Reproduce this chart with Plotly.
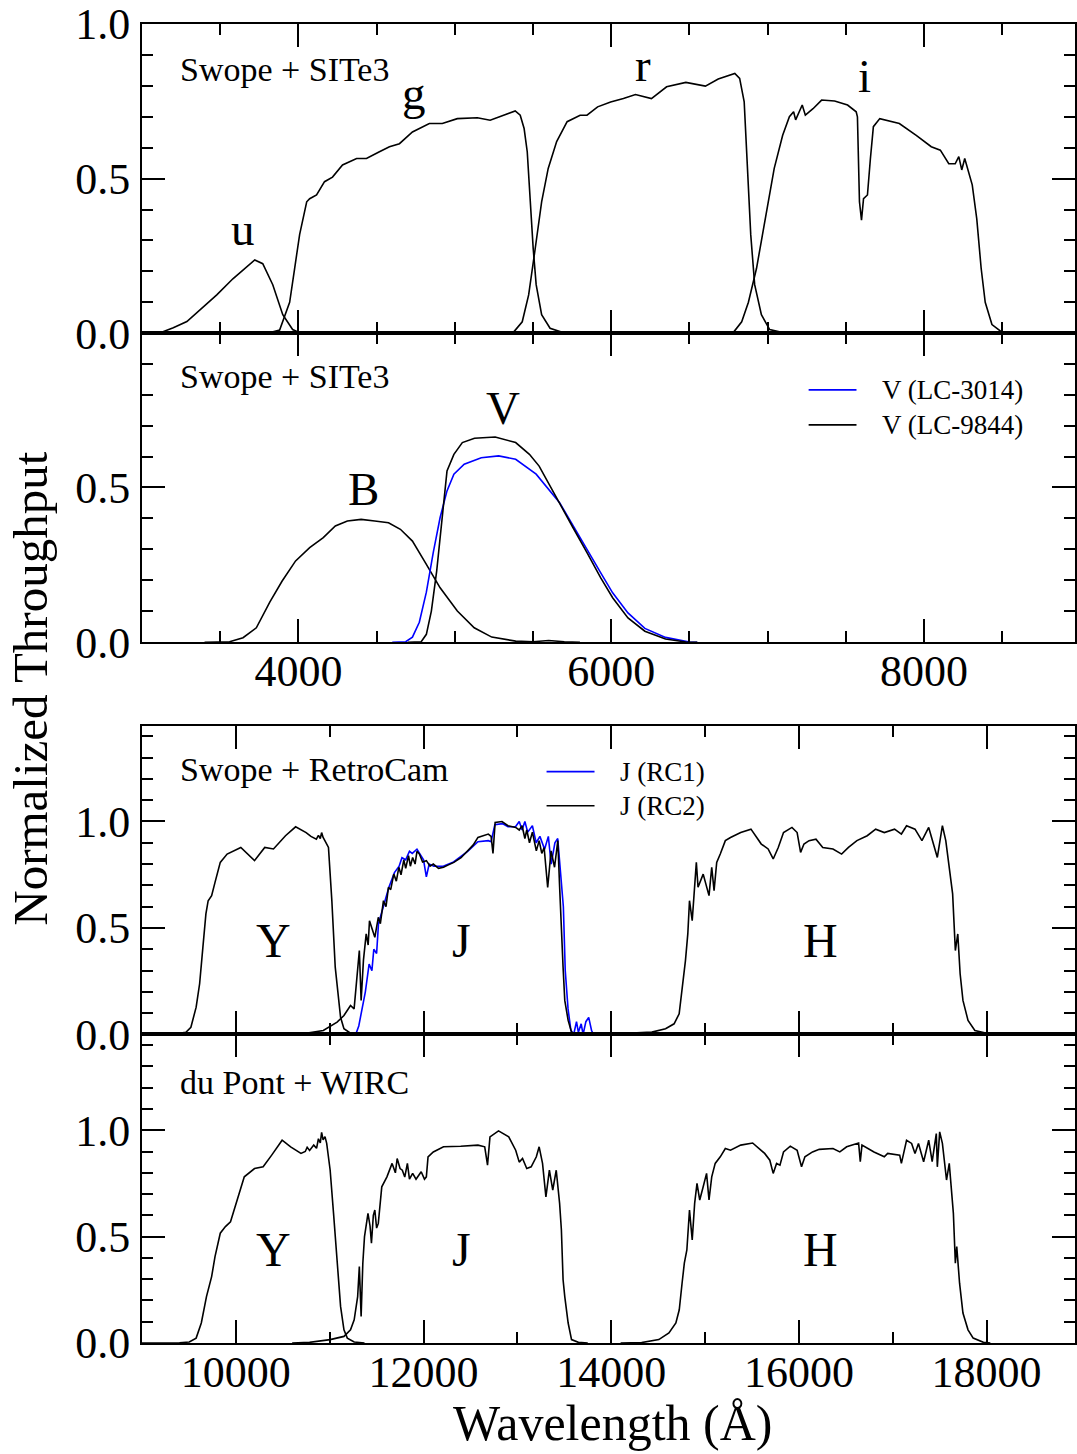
import plotly.graph_objects as go

# ---------------- data (wavelength in Angstrom, normalized throughput) ----------------
# Panel 1: Swope + SITe3 (u g r i)
u_SITe3 = [(3000, 0), (3100, 0.001), (3134, 0.005), (3200, 0.018), (3287, 0.038), (3370, 0.076),
           (3478, 0.124), (3581, 0.176), (3689, 0.225), (3721, 0.237), (3772, 0.225), (3836, 0.157),
           (3900, 0.06), (3963, 0.012), (4008, 0.002), (4100, 0)]
g_SITe3 = [(3700, 0), (3820, 0.002), (3880, 0.01), (3944, 0.1), (3976, 0.21), (4008, 0.32),
           (4053, 0.425), (4072, 0.435), (4116, 0.447), (4167, 0.49), (4218, 0.505), (4282, 0.544),
           (4372, 0.565), (4435, 0.565), (4518, 0.587), (4582, 0.603), (4646, 0.613), (4729, 0.651),
           (4837, 0.678), (4920, 0.678), (5016, 0.694), (5144, 0.697), (5226, 0.689), (5309, 0.705),
           (5386, 0.719), (5418, 0.705), (5443, 0.662), (5463, 0.587), (5482, 0.425), (5501, 0.274),
           (5520, 0.157), (5555, 0.06), (5609, 0.016), (5692, 0.002), (5800, 0)]
r_SITe3 = [(5250, 0), (5373, 0.002), (5431, 0.037), (5472, 0.124), (5514, 0.274), (5555, 0.425),
           (5597, 0.533), (5651, 0.62), (5718, 0.684), (5801, 0.705), (5845, 0.705), (5913, 0.732),
           (5996, 0.748), (6078, 0.759), (6155, 0.772), (6257, 0.759), (6354, 0.797), (6477, 0.811),
           (6602, 0.799), (6684, 0.822), (6790, 0.84), (6821, 0.824), (6850, 0.748), (6872, 0.532),
           (6892, 0.318), (6917, 0.157), (6960, 0.06), (7013, 0.012), (7096, 0.002), (7200, 0)]
i_SITe3 = [(6650, 0), (6780, 0.002), (6834, 0.037), (6877, 0.1), (6929, 0.21), (6987, 0.37),
           (7042, 0.533), (7096, 0.64), (7139, 0.7), (7166, 0.716), (7179, 0.69), (7221, 0.738),
           (7241, 0.705), (7290, 0.726), (7345, 0.754), (7428, 0.751), (7511, 0.738), (7566, 0.716),
           (7574, 0.70), (7587, 0.425), (7600, 0.366), (7613, 0.435), (7638, 0.447), (7657, 0.565),
           (7676, 0.668), (7717, 0.694), (7842, 0.678), (7950, 0.64), (8046, 0.603), (8104, 0.592),
           (8158, 0.548), (8199, 0.548), (8222, 0.571), (8241, 0.528), (8260, 0.565), (8308, 0.48),
           (8337, 0.37), (8365, 0.21), (8391, 0.1), (8434, 0.028), (8502, 0.002), (8600, 0)]

# Panel 2: Swope + SITe3 (B V)
B_SITe3 = [(3400, 0), (3500, 0.0), (3560, 0.002), (3646, 0.015), (3731, 0.047), (3817, 0.13),
           (3896, 0.198), (3982, 0.263), (4072, 0.306), (4159, 0.338), (4236, 0.376), (4313, 0.392),
           (4401, 0.397), (4488, 0.392), (4576, 0.386), (4652, 0.365), (4729, 0.327), (4818, 0.252),
           (4906, 0.176), (5016, 0.101), (5124, 0.047), (5236, 0.017), (5389, 0.004), (5500, 0.002),
           (5600, 0.006), (5700, 0.002), (5800, 0)]
V_LC3014 = [(4600, 0), (4686, 0.002), (4729, 0.017), (4773, 0.065), (4818, 0.162), (4862, 0.29),
            (4906, 0.403), (4950, 0.489), (4994, 0.543), (5060, 0.575), (5169, 0.596), (5280, 0.602),
            (5389, 0.591), (5520, 0.543), (5670, 0.451), (5756, 0.375), (5845, 0.30), (5932, 0.225),
            (6009, 0.16), (6107, 0.095), (6215, 0.045), (6347, 0.016), (6500, 0.001), (6550, 0)]
V_LC9844 = [(4700, 0), (4785, 0.002), (4818, 0.026), (4850, 0.101), (4884, 0.23), (4917, 0.403),
            (4950, 0.553), (4994, 0.607), (5048, 0.645), (5126, 0.659), (5258, 0.663), (5389, 0.645),
            (5477, 0.607), (5539, 0.569), (5670, 0.446), (5756, 0.37), (5845, 0.29), (5932, 0.209),
            (6009, 0.144), (6107, 0.079), (6215, 0.036), (6347, 0.011), (6477, 0.001), (6550, 0)]

# Panel 3: Swope + RetroCam (Y J H)
Y_RC = [(9000, 0), (9300, 0.0), (9468, 0.01), (9521, 0.034), (9577, 0.128), (9614, 0.238),
        (9649, 0.41), (9681, 0.566), (9705, 0.628), (9742, 0.652), (9778, 0.714), (9834, 0.808),
        (9907, 0.847), (10053, 0.878), (10199, 0.816), (10308, 0.878), (10401, 0.871), (10529, 0.933),
        (10637, 0.975), (10749, 0.948), (10800, 0.93), (10858, 0.917), (10880, 0.935), (10900, 0.92),
        (10914, 0.948), (10930, 0.925), (10950, 0.909), (10987, 0.878), (11023, 0.628), (11059, 0.316),
        (11116, 0.081), (11152, 0.027), (11222, 0.006), (11297, 0)]
J_RC1 = [(11200, 0), (11280, 0.003), (11310, 0.04), (11340, 0.11), (11380, 0.2), (11420, 0.33),
         (11450, 0.30), (11470, 0.40), (11500, 0.38), (11520, 0.52), (11580, 0.62), (11630, 0.69),
         (11690, 0.76), (11740, 0.79), (11770, 0.83), (11810, 0.82), (11850, 0.86), (11880, 0.85),
         (11930, 0.87), (11960, 0.85), (12000, 0.82), (12030, 0.74), (12060, 0.80), (12110, 0.79),
         (12210, 0.79), (12320, 0.81), (12470, 0.86), (12580, 0.905), (12690, 0.91), (12720, 0.905),
         (12760, 0.985), (12840, 0.99), (12900, 0.975), (12980, 0.975), (13020, 1.0), (13050, 0.96),
         (13080, 1.0), (13110, 0.95), (13160, 0.98), (13200, 0.90), (13240, 0.93), (13290, 0.87),
         (13330, 0.93), (13360, 0.80), (13400, 0.90), (13430, 0.92), (13460, 0.74), (13490, 0.60),
         (13510, 0.30), (13540, 0.12), (13570, 0.02), (13600, 0.0), (13630, 0.06), (13650, 0.01),
         (13680, 0.05), (13700, 0.0), (13730, 0.06), (13760, 0.08), (13790, 0.02), (13810, 0.0),
         (13870, 0.0)]
J_RC2 = [(10500, 0), (10712, 0.003), (10932, 0.019), (11079, 0.058), (11152, 0.089), (11222, 0.136),
         (11260, 0.12), (11290, 0.25), (11316, 0.394), (11335, 0.16), (11360, 0.35), (11389, 0.472),
         (11410, 0.42), (11424, 0.534), (11450, 0.50), (11481, 0.456), (11518, 0.55), (11540, 0.52),
         (11573, 0.628), (11600, 0.60), (11626, 0.691), (11650, 0.68), (11683, 0.753), (11710, 0.72),
         (11737, 0.785), (11760, 0.75), (11790, 0.82), (11810, 0.78), (11840, 0.84), (11860, 0.79),
         (11884, 0.831), (11910, 0.80), (11930, 0.86), (11956, 0.847), (11990, 0.81), (12030, 0.816),
         (12070, 0.79), (12104, 0.80), (12160, 0.78), (12213, 0.785), (12260, 0.795), (12323, 0.808),
         (12400, 0.83), (12469, 0.862), (12530, 0.89), (12580, 0.925), (12640, 0.935), (12690, 0.941),
         (12720, 0.93), (12740, 0.85), (12763, 0.995), (12836, 1.0), (12900, 0.98), (12982, 0.972),
         (13020, 0.96), (13050, 0.98), (13080, 0.92), (13100, 0.96), (13129, 0.90), (13160, 0.95),
         (13202, 0.862), (13232, 0.91), (13260, 0.85), (13285, 0.878), (13323, 0.69), (13359, 0.862),
         (13396, 0.785), (13431, 0.91), (13449, 0.706), (13469, 0.472), (13487, 0.316), (13505, 0.16),
         (13541, 0.066), (13577, 0.011), (13620, 0.002), (13700, 0)]
H_RC = [(13900, 0), (14251, 0.006), (14433, 0.011), (14579, 0.027), (14670, 0.05), (14724, 0.097),
        (14761, 0.222), (14791, 0.347), (14816, 0.472), (14834, 0.628), (14863, 0.534), (14889, 0.691),
        (14907, 0.808), (14925, 0.691), (14980, 0.753), (15042, 0.652), (15071, 0.785), (15096, 0.675),
        (15124, 0.808), (15162, 0.847), (15216, 0.91), (15271, 0.925), (15380, 0.948), (15489, 0.964),
        (15526, 0.941), (15599, 0.894), (15672, 0.871), (15726, 0.824), (15780, 0.878), (15836, 0.948),
        (15926, 0.972), (15981, 0.948), (16018, 0.855), (16054, 0.894), (16108, 0.91), (16182, 0.917),
        (16254, 0.878), (16363, 0.871), (16455, 0.847), (16528, 0.878), (16618, 0.91), (16728, 0.933),
        (16818, 0.964), (16910, 0.948), (17019, 0.964), (17092, 0.941), (17147, 0.98), (17237, 0.964),
        (17311, 0.91), (17383, 0.972), (17475, 0.831), (17529, 0.98), (17565, 0.91), (17602, 0.785),
        (17638, 0.66), (17667, 0.394), (17693, 0.472), (17718, 0.285), (17748, 0.16), (17802, 0.066),
        (17875, 0.019), (18002, 0.006), (18100, 0)]

# Panel 4: du Pont + WIRC (Y J H)
Y_WIRC = [(9000, 0), (9400, 0.001), (9504, 0.005), (9577, 0.023), (9632, 0.094), (9687, 0.218),
          (9742, 0.312), (9778, 0.406), (9834, 0.516), (9889, 0.547), (9943, 0.57), (10017, 0.672),
          (10090, 0.781), (10199, 0.82), (10291, 0.828), (10382, 0.883), (10493, 0.953), (10584, 0.922),
          (10694, 0.891), (10740, 0.90), (10760, 0.92), (10786, 0.905), (10830, 0.93), (10860, 0.915),
          (10880, 0.96), (10900, 0.94), (10914, 0.99), (10930, 0.955), (10950, 0.97), (10968, 0.938),
          (11005, 0.812), (11041, 0.609), (11079, 0.375), (11116, 0.172), (11152, 0.062), (11188, 0.023),
          (11261, 0.005), (11371, 0)]
J_WIRC = [(10600, 0), (10786, 0.003), (11005, 0.016), (11152, 0.031), (11222, 0.062), (11261, 0.109),
          (11298, 0.218), (11316, 0.359), (11335, 0.125), (11353, 0.375), (11371, 0.5), (11408, 0.609),
          (11430, 0.55), (11445, 0.469), (11465, 0.6), (11481, 0.625), (11500, 0.54), (11518, 0.562),
          (11555, 0.734), (11610, 0.781), (11665, 0.844), (11700, 0.80), (11719, 0.867), (11750, 0.82),
          (11774, 0.812), (11800, 0.78), (11828, 0.844), (11850, 0.77), (11884, 0.797), (11920, 0.77),
          (11975, 0.805), (12010, 0.77), (12030, 0.781), (12048, 0.875), (12104, 0.898), (12213, 0.922),
          (12396, 0.925), (12580, 0.93), (12652, 0.922), (12682, 0.836), (12708, 0.969), (12799, 0.997),
          (12908, 0.969), (12982, 0.906), (13020, 0.85), (13055, 0.867), (13100, 0.82), (13147, 0.828),
          (13202, 0.875), (13232, 0.922), (13268, 0.844), (13304, 0.687), (13341, 0.812), (13377, 0.719),
          (13414, 0.812), (13450, 0.656), (13469, 0.531), (13487, 0.297), (13505, 0.218), (13541, 0.094),
          (13577, 0.016), (13650, 0.003), (13750, 0)]
H_WIRC = [(14100, 0), (14324, 0.002), (14507, 0.016), (14615, 0.047), (14689, 0.094), (14725, 0.156),
          (14755, 0.281), (14779, 0.375), (14806, 0.437), (14834, 0.625), (14863, 0.484), (14889, 0.656),
          (14914, 0.75), (14943, 0.672), (14980, 0.734), (15016, 0.797), (15042, 0.672), (15071, 0.781),
          (15108, 0.844), (15162, 0.875), (15216, 0.914), (15271, 0.906), (15380, 0.93), (15507, 0.94),
          (15635, 0.891), (15690, 0.859), (15726, 0.797), (15762, 0.844), (15798, 0.836), (15836, 0.898),
          (15908, 0.925), (15981, 0.906), (16028, 0.828), (16064, 0.875), (16145, 0.898), (16217, 0.91),
          (16363, 0.914), (16436, 0.898), (16509, 0.922), (16636, 0.94), (16654, 0.852), (16672, 0.93),
          (16800, 0.898), (16910, 0.875), (16946, 0.891), (17074, 0.883), (17092, 0.844), (17147, 0.953),
          (17201, 0.938), (17237, 0.891), (17274, 0.938), (17329, 0.852), (17383, 0.953), (17420, 0.852),
          (17464, 0.984), (17475, 0.828), (17500, 0.992), (17529, 0.938), (17573, 0.766), (17602, 0.844),
          (17646, 0.609), (17667, 0.375), (17682, 0.453), (17712, 0.281), (17748, 0.141), (17802, 0.062),
          (17857, 0.023), (17966, 0.003), (18040, 0)]

panel_titles = ["Swope + SITe3", "Swope + SITe3", "Swope + RetroCam", "du Pont + WIRC"]
legend_V = ["V (LC-3014)", "V (LC-9844)"]
legend_J = ["J (RC1)", "J (RC2)"]

# ---------------- figure ----------------
FONT = "Liberation Serif"
BLUE = "#0000ff"
fig = go.Figure()


def add(curve, n, color="black"):
    xs = [p[0] for p in curve]
    ys = [p[1] for p in curve]
    suffix = "" if n == 1 else str(n)
    fig.add_trace(go.Scatter(x=xs, y=ys, mode="lines", line=dict(color=color, width=1.6),
                             xaxis="x" + suffix, yaxis="y" + suffix, showlegend=False,
                             hoverinfo="skip"))


for c in (u_SITe3, g_SITe3, r_SITe3, i_SITe3):
    add(c, 1)
add(B_SITe3, 2)
add(V_LC3014, 2, BLUE)
add(V_LC9844, 2)
add(Y_RC, 3)
add(J_RC1, 3, BLUE)
add(J_RC2, 3)
add(H_RC, 3)
add(Y_WIRC, 4)
add(J_WIRC, 4)
add(H_WIRC, 4)

tickfont = dict(family=FONT, size=44, color="black")


def xax(rng, dtick, mdtick, labels, anchor):
    return dict(range=rng, domain=[0, 1], anchor=anchor, showline=True, linewidth=2, linecolor="black",
                mirror="allticks", ticks="inside", ticklen=23, tickwidth=2, tickcolor="black",
                tick0=0, dtick=dtick, tickformat="d", showgrid=False, zeroline=False,
                showticklabels=labels, tickfont=tickfont, ticklabelstandoff=-11,
                ticklabeloverflow="allow",
                minor=dict(ticks="inside", ticklen=11, tickwidth=2, tickcolor="black",
                           dtick=mdtick, tick0=0, showgrid=False))


def yax(rng, dom, anchor):
    return dict(range=rng, domain=dom, anchor=anchor, showline=True, linewidth=2, linecolor="black",
                mirror="allticks", ticks="inside", ticklen=23, tickwidth=2, tickcolor="black",
                tick0=0, dtick=0.5, tickformat=".1f", showgrid=False, zeroline=False,
                tickfont=tickfont, ticklabelstandoff=1, ticklabeloverflow="allow",
                minor=dict(ticks="inside", ticklen=11, tickwidth=2, tickcolor="black",
                           dtick=0.1, tick0=0, showgrid=False))


TOP_RANGE = [3000, 8965]
BOT_RANGE = [9000, 18942]
d1 = [0.76556, 1.0]
d2 = [0.53119, 0.76556]
d3 = [0.23391, 0.46806]
d4 = [0.0, 0.23391]

fig.update_layout(
    width=1077, height=1454,
    margin=dict(l=142, r=0, t=22, b=111),
    paper_bgcolor="white", plot_bgcolor="white",
    font=dict(family=FONT, color="black"),
    showlegend=False,
    xaxis=xax(TOP_RANGE, 2000, 500, False, "y"),
    yaxis=yax([0, 1.0], d1, "x"),
    xaxis2=xax(TOP_RANGE, 2000, 500, True, "y2"),
    yaxis2=yax([0, 0.998], d2, "x2"),
    xaxis3=xax(BOT_RANGE, 2000, 1000, False, "y3"),
    yaxis3=yax([0, 1.45], d3, "x3"),
    xaxis4=xax(BOT_RANGE, 2000, 1000, True, "y4"),
    yaxis4=yax([0, 1.45], d4, "x4"),
)

ann = []


def label(text, x, y, n, size, xanchor="center"):
    suffix = "" if n == 1 else str(n)
    ann.append(dict(text=text, x=x, y=y, xref="x" + suffix, yref="y" + suffix, showarrow=False,
                    xanchor=xanchor, yanchor="middle", font=dict(family=FONT, size=size, color="black")))


# panel titles
label(panel_titles[0], 3230, 0.853, 1, 34, "left")
label(panel_titles[1], 3232, 0.857, 2, 34, "left")
label(panel_titles[2], 9387, 1.242, 3, 34, "left")
label(panel_titles[3], 9387, 1.223, 4, 34, "left")

# filter names
label("u", 3644, 0.337, 1, 47)
label("g", 4742, 0.776, 1, 47)
label("r", 6203, 0.868, 1, 47)
label("i", 7616, 0.833, 1, 47)
label("B", 4416, 0.496, 2, 47)
label("V", 5306, 0.757, 2, 47)
for n, yy in ((3, 0.443), (4, 0.44)):
    label("Y", 10401, yy, n, 48)
    label("J", 12402, yy, n, 48)
    label("H", 16227, yy, n, 48)

# legends
shapes = []
for (txt, col, yy) in ((legend_V[0], BLUE, 0.815), (legend_V[1], "black", 0.702)):
    shapes.append(dict(type="line", xref="x2", yref="y2", x0=7262, x1=7568, y0=yy, y1=yy,
                       line=dict(color=col, width=1.6)))
    label(txt, 7721, yy, 2, 27, "left")
for (txt, col, yy) in ((legend_J[0], BLUE, 1.234), (legend_J[1], "black", 1.074)):
    shapes.append(dict(type="line", xref="x3", yref="y3", x0=13311, x1=13822, y0=yy, y1=yy,
                       line=dict(color=col, width=1.6)))
    label(txt, 14077, yy, 3, 27, "left")

# axis titles
ann.append(dict(text="Normalized Throughput", xref="paper", yref="paper", x=-0.1198, y=0.4962,
                xanchor="center", yanchor="middle", textangle=-90, showarrow=False,
                font=dict(family=FONT, size=49, color="black")))
ann.append(dict(text="Wavelength (Å)", xref="paper", yref="paper", x=0.5043, y=-0.0604,
                xanchor="center", yanchor="middle", showarrow=False,
                font=dict(family=FONT, size=50, color="black")))

fig.update_layout(annotations=ann, shapes=shapes)
fig.write_html("out.html", config={"displayModeBar": False},
               post_script="document.body.style.margin='0px';document.body.style.overflow='hidden';")
